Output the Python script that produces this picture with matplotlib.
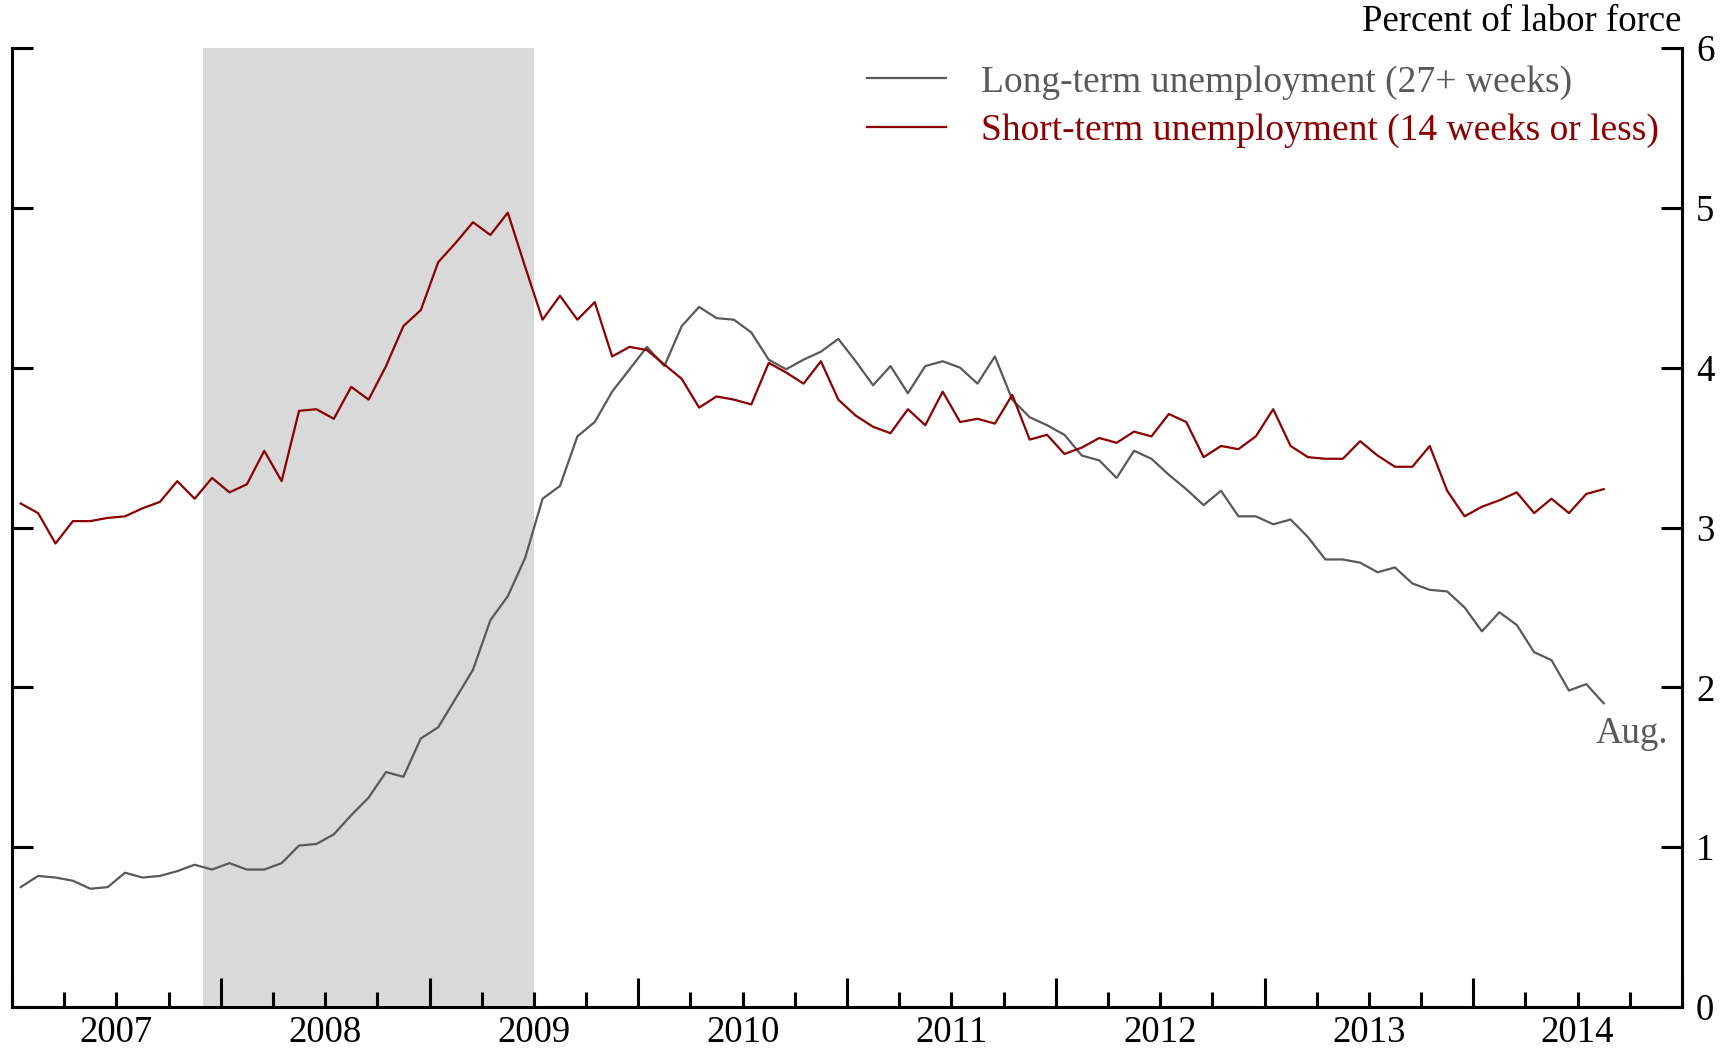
import numpy as np
import matplotlib
matplotlib.use('Agg')
import matplotlib.pyplot as plt
from matplotlib.ticker import FixedLocator, FuncFormatter

plt.rcParams['font.family'] = ['Liberation Serif', 'DejaVu Serif']

# Monthly data, Jan 2007 - Aug 2014 (percent of labor force)
start_year = 2007
long_term = [
    0.75, 0.82, 0.81, 0.79, 0.74, 0.75, 0.84, 0.81, 0.82, 0.85, 0.89, 0.86,   # 2007
    0.90, 0.86, 0.86, 0.90, 1.01, 1.02, 1.08, 1.20, 1.31, 1.47, 1.44, 1.68,   # 2008
    1.75, 1.93, 2.11, 2.42, 2.57, 2.81, 3.18, 3.26, 3.57, 3.66, 3.85, 3.99,   # 2009
    4.13, 4.01, 4.26, 4.38, 4.31, 4.30, 4.22, 4.05, 3.99, 4.05, 4.10, 4.18,   # 2010
    4.04, 3.89, 4.01, 3.84, 4.01, 4.04, 4.00, 3.90, 4.07, 3.80, 3.69, 3.64,   # 2011
    3.58, 3.45, 3.42, 3.31, 3.48, 3.43, 3.33, 3.24, 3.14, 3.23, 3.07, 3.07,   # 2012
    3.02, 3.05, 2.94, 2.80, 2.80, 2.78, 2.72, 2.75, 2.65, 2.61, 2.60, 2.50,   # 2013
    2.35, 2.47, 2.39, 2.22, 2.17, 1.98, 2.02, 1.90,                           # 2014
]
short_term = [
    3.15, 3.09, 2.90, 3.04, 3.04, 3.06, 3.07, 3.12, 3.16, 3.29, 3.18, 3.31,   # 2007
    3.22, 3.27, 3.48, 3.29, 3.73, 3.74, 3.68, 3.88, 3.80, 4.01, 4.26, 4.36,   # 2008
    4.66, 4.78, 4.91, 4.83, 4.97, 4.63, 4.30, 4.45, 4.30, 4.41, 4.07, 4.13,   # 2009
    4.11, 4.02, 3.93, 3.75, 3.82, 3.80, 3.77, 4.03, 3.97, 3.90, 4.04, 3.80,   # 2010
    3.70, 3.63, 3.59, 3.74, 3.64, 3.85, 3.66, 3.68, 3.65, 3.83, 3.55, 3.58,   # 2011
    3.46, 3.50, 3.56, 3.53, 3.60, 3.57, 3.71, 3.66, 3.44, 3.51, 3.49, 3.57,   # 2012
    3.74, 3.51, 3.44, 3.43, 3.43, 3.54, 3.45, 3.38, 3.38, 3.51, 3.23, 3.07,   # 2013
    3.13, 3.17, 3.22, 3.09, 3.18, 3.09, 3.21, 3.24,                           # 2014
]
recession = (2007 + 11 / 12, 2009 + 6 / 12)   # Dec 2007 - Jun 2009
year_labels = list(range(2007, 2015))
y_ticks = [0, 1, 2, 3, 4, 5, 6]

gray = '#595959'
red = '#8b0000'
fs = 26.5

# x position of each month (middle of the month)
x = start_year + (np.arange(len(long_term)) + 0.5) / 12

fig = plt.figure(figsize=(17.23, 10.49), dpi=100)
ax = fig.add_axes([12 / 1723, 1 - 1007 / 1049, (1682 - 12) / 1723, (1007 - 48) / 1049])

ax.axvspan(recession[0], recession[1], color='#d9d9d9', lw=0, zorder=0)
ax.plot(x, long_term, color=gray, lw=1.6, label='Long-term unemployment (27+ weeks)')
ax.plot(x, short_term, color=red, lw=1.6, label='Short-term unemployment (14 weeks or less)')

ax.set_xlim(2007, 2015)
ax.set_ylim(0, 6)

# spines
ax.spines['top'].set_visible(False)
for s in ['left', 'right', 'bottom']:
    ax.spines[s].set_linewidth(2.2)

# x ticks: long at year boundaries, short each quarter, year label at mid-year
ax.xaxis.set_major_locator(FixedLocator(range(2007, 2016)))
ax.xaxis.set_major_formatter(FuncFormatter(lambda v, p: ''))
ax.xaxis.set_minor_locator(FixedLocator([y + q / 4 for y in year_labels for q in (1, 2, 3)]))
ax.xaxis.set_minor_formatter(FuncFormatter(
    lambda v, p: str(int(v)) if abs(v - int(v) - 0.5) < 0.01 else ''))
ax.tick_params(axis='x', which='major', direction='in', length=21, width=2.2)
ax.tick_params(axis='x', which='minor', direction='in', length=11, width=2.2,
               labelsize=fs, pad=6)

# y ticks on both sides, labels on the right
ax.set_yticks(y_ticks)
ax.yaxis.tick_right()
ax.tick_params(axis='y', which='major', direction='in', length=15, width=2.2,
               left=True, right=True, labelleft=False, labelright=True,
               labelsize=fs, pad=10)

fig.text(1681 / 1723, 1 - 31 / 1049, 'Percent of labor force', ha='right',
         va='baseline', fontsize=fs)

leg = ax.legend(loc='upper left', bbox_to_anchor=(867 / 1723, 1 - 65 / 1049),
                bbox_transform=fig.transFigure, frameon=False, fontsize=27,
                handlelength=2.1, handletextpad=0.95, labelspacing=0.38,
                labelcolor='linecolor', borderpad=0, borderaxespad=0)

ax.text(x[-1] - 0.04, 1.82, 'Aug.', color=gray, fontsize=fs, ha='left', va='top')

fig.savefig('out.png', dpi=100)
